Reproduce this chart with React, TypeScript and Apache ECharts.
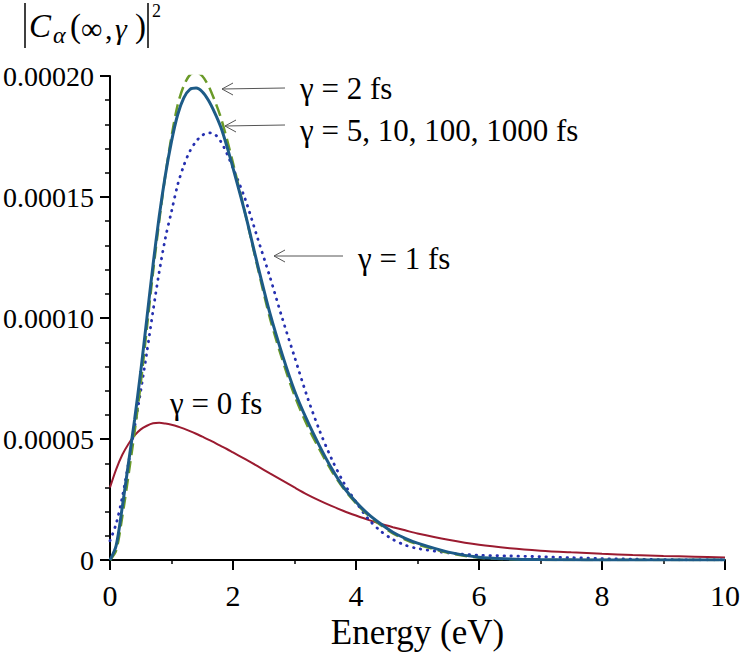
import React, { useEffect, useRef } from "react";
import * as echarts from "echarts";

// Energy grid (eV)
const energy = [0, 0.1, 0.2, 0.3, 0.4, 0.5, 0.6, 0.7, 0.8, 0.9, 1.0, 1.1, 1.2, 1.3, 1.4, 1.5, 1.6, 1.7, 1.8, 1.9, 2.0, 2.2, 2.4, 2.6, 2.8, 3.0, 3.2, 3.4, 3.6, 3.8, 4.0, 4.2, 4.4, 4.6, 4.8, 5.0, 5.5, 6.0, 6.5, 7.0, 7.5, 8.0, 8.5, 9.0, 9.5, 10.0];

// values in units of 1e-5
const UNIT = 1e-5;
const gamma0 = [3.0, 3.75, 4.35, 4.8, 5.15, 5.4, 5.55, 5.65, 5.67, 5.64, 5.59, 5.52, 5.43, 5.33, 5.22, 5.1, 4.98, 4.85, 4.72, 4.59, 4.45, 4.17, 3.88, 3.58, 3.29, 3.0, 2.72, 2.47, 2.24, 2.03, 1.84, 1.66, 1.5, 1.36, 1.23, 1.1, 0.84, 0.63, 0.49, 0.39, 0.32, 0.26, 0.21, 0.17, 0.14, 0.11];
const gamma1 = [0.8, 1.5, 2.6, 4.0, 5.5, 7.0, 8.6, 10.3, 11.9, 13.3, 14.4, 15.5, 16.3, 16.9, 17.3, 17.55, 17.65, 17.6, 17.3, 16.8, 16.2, 14.9, 13.3, 11.7, 10.0, 8.4, 6.8, 5.4, 4.2, 3.2, 2.4, 1.7, 1.2, 0.85, 0.62, 0.48, 0.3, 0.2, 0.17, 0.14, 0.1, 0.06, 0.04, 0.02, 0.01, 0.01];
const gamma2 = [0, 0.4, 1.8, 3.5, 5.3, 7.3, 9.6, 11.9, 14.0, 15.9, 17.5, 18.8, 19.6, 20.05, 20.15, 20.0, 19.6, 19.0, 18.3, 17.4, 16.4, 14.3, 12.1, 10.0, 8.3, 6.8, 5.6, 4.6, 3.7, 2.95, 2.35, 1.85, 1.45, 1.1, 0.85, 0.65, 0.3, 0.1, 0.04, 0.01, 0, 0, 0, 0, 0, 0];
const gamma5to1000 = [0, 0.6, 2.2, 4.0, 5.8, 7.8, 10.0, 12.2, 14.2, 15.9, 17.3, 18.4, 19.1, 19.45, 19.5, 19.35, 19.0, 18.5, 17.9, 17.1, 16.2, 14.3, 12.2, 10.2, 8.5, 7.0, 5.8, 4.75, 3.8, 3.0, 2.4, 1.9, 1.5, 1.15, 0.9, 0.7, 0.33, 0.12, 0.05, 0.02, 0.01, 0, 0, 0, 0, 0];

const xTicks = { min: 0, max: 10, interval: 2 };
const yTicks = { min: 0, max: 20, interval: 5 };

const labels = {
  g2: "γ = 2 fs",
  g5: "γ = 5, 10, 100, 1000 fs",
  g1: "γ = 1 fs",
  g0: "γ = 0 fs",
};

const FONT = "Liberation Serif";

const pairs = (vals: number[]) => energy.map((e, i) => [e, vals[i]]);

export default function App() {
  const ref = useRef<HTMLDivElement>(null);
  useEffect(() => {
    document.body.style.margin = "0";
    const chart = echarts.init(ref.current!, null, { renderer: "svg" });
    const arrowColor = "#555";
    const arrow = (x1: number, y1: number, x2: number, y2: number) => [
      { type: "line", shape: { x1, y1, x2, y2 }, style: { stroke: arrowColor, lineWidth: 1 } },
      {
        type: "polyline",
        shape: { points: [[x2 + 11, y2 - 6], [x2, y2], [x2 + 11, y2 + 6]] },
        style: { stroke: arrowColor, lineWidth: 1, fill: null },
      },
    ];
    const txt = (text: string, x: number, y: number, size: number, italic = false) => ({
      type: "text",
      x,
      y,
      style: {
        text,
        fill: "#000",
        fontFamily: FONT,
        fontSize: size,
        fontStyle: italic ? "italic" : "normal",
        align: "left",
        verticalAlign: "middle",
      },
    });
    chart.setOption({
      animation: false,
      backgroundColor: "#fff",
      grid: { left: 109, right: 14, top: 76, bottom: 92, containLabel: false },
      xAxis: {
        type: "value",
        ...xTicks,
        axisLine: { show: true, onZero: false, lineStyle: { color: "#000", width: 2 } },
        axisTick: { show: true, length: 10, lineStyle: { color: "#000", width: 2 } },
        minorTick: { show: true, splitNumber: 2, length: 4, lineStyle: { color: "#000", width: 1.5 } },
        splitLine: { show: false },
        axisLabel: { fontFamily: FONT, fontSize: 30, color: "#000", margin: 20 },
        name: "Energy (eV)",
        nameLocation: "middle",
        nameGap: 50,
        nameTextStyle: { fontFamily: FONT, fontSize: 35, color: "#000" },
      },
      yAxis: {
        type: "value",
        ...yTicks,
        axisLine: { show: true, onZero: false, lineStyle: { color: "#000", width: 2 } },
        axisTick: { show: true, length: 10, lineStyle: { color: "#000", width: 2 } },
        minorTick: { show: true, splitNumber: 5, length: 5, lineStyle: { color: "#000", width: 1.5 } },
        splitLine: { show: false },
        axisLabel: {
          fontFamily: FONT,
          fontSize: 28,
          color: "#000",
          margin: 16,
          formatter: (v: number) => (v === 0 ? "0" : (v * UNIT).toFixed(5)),
        },
      },
      series: [
        {
          name: labels.g0,
          type: "line",
          data: pairs(gamma0),
          showSymbol: false,
          smooth: 0.3,
          lineStyle: { color: "#9b1b30", width: 2 },
        },
        {
          name: labels.g1,
          type: "line",
          data: pairs(gamma1),
          showSymbol: false,
          smooth: 0.3,
          lineStyle: { color: "#2630b0", width: 2.8, type: [0.5, 6.5], cap: "round" },
        },
        {
          name: labels.g2,
          type: "line",
          data: pairs(gamma2),
          showSymbol: false,
          smooth: 0.3,
          lineStyle: { color: "#6a9a28", width: 2.5, type: [12, 6] },
        },
        {
          name: labels.g5,
          type: "line",
          data: pairs(gamma5to1000),
          showSymbol: false,
          smooth: 0.3,
          lineStyle: { color: "#1d5b87", width: 3 },
        },
      ],
      graphic: [
        // y-axis title |C_alpha(inf, gamma)|^2
        { type: "line", shape: { x1: 25, y1: 3, x2: 25, y2: 48 }, style: { stroke: "#000", lineWidth: 1.5 } },
        { type: "line", shape: { x1: 148, y1: 3, x2: 148, y2: 48 }, style: { stroke: "#000", lineWidth: 1.5 } },
        txt("C", 29, 26, 33, true),
        txt("α", 53, 35, 24, true),
        txt("(", 70, 26, 33),
        txt("∞", 81, 28, 30),
        txt(",", 105, 28, 30),
        txt("γ", 115, 28, 30, true),
        txt(")", 135, 26, 33),
        txt("2", 152, 11, 18),
        // annotations
        txt(labels.g2, 300, 88, 31),
        txt(labels.g5, 300, 130, 31),
        txt(labels.g1, 358, 258, 31),
        txt(labels.g0, 170, 403, 31),
        ...arrow(285, 88, 222, 89),
        ...arrow(285, 125, 225, 126),
        ...arrow(343, 256, 274, 256),
      ],
    });
    return () => chart.dispose();
  }, []);
  return <div ref={ref} style={{ width: 743, height: 655 }} />;
}
